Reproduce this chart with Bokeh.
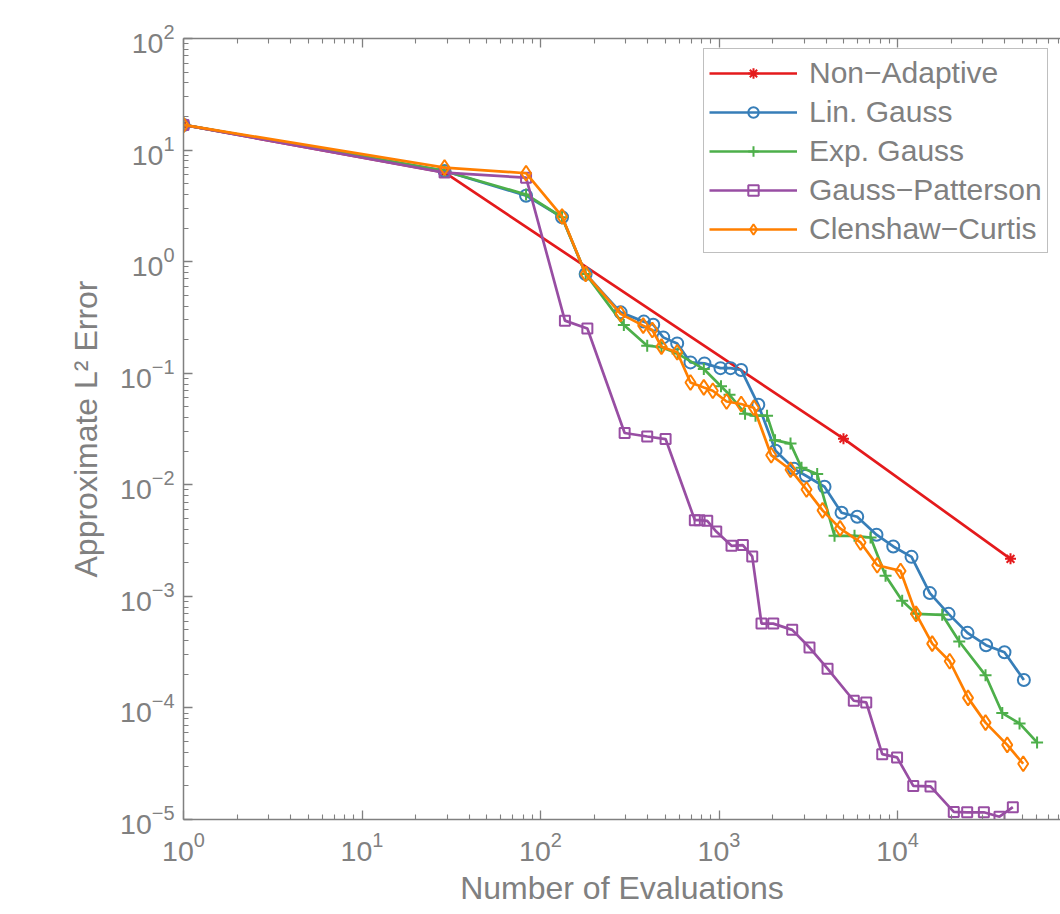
from bokeh.plotting import figure
from bokeh.models import (Range1d, FixedTicker, LogAxis, CustomJSTickFormatter,
                          LogTickFormatter, Legend, LegendItem)
from bokeh.embed import file_html
from bokeh.resources import INLINE

# ---------------- data ----------------
n_nonadaptive = [1, 29, 4980, 42950]
e_nonadaptive = [16.8, 6.3, 0.0259, 0.00217]

n_lin = [1, 29, 83, 132, 179, 281, 379, 428, 487, 583, 692, 829, 1019, 1160, 1331,
         1660, 2073, 2630, 3070, 3900, 4857, 5945, 7625, 9465, 11980, 15170, 19320,
         24660, 31330, 39730, 51030]
e_lin = [16.8, 6.5, 3.9, 2.5, 0.776, 0.351, 0.290, 0.272, 0.2095, 0.185, 0.125, 0.1225,
         0.111, 0.111, 0.107, 0.0521, 0.0202, 0.0139, 0.01205, 0.0096, 0.00561, 0.00517,
         0.00357, 0.0028, 0.00226, 0.00107, 0.000697, 0.000471, 0.000365, 0.000316, 0.000178]

n_exp = [1, 29, 83, 132, 179, 293, 396, 476, 586, 822, 1026, 1145, 1399, 1601, 1858,
         2060, 2515, 2898, 3548, 4437, 5742, 7063, 8570, 10620, 12700, 17800, 22170,
         31120, 38620, 48260, 60500]
e_exp = [16.8, 6.5, 4.0, 2.5, 0.776, 0.270, 0.1766, 0.171, 0.150, 0.109, 0.0764, 0.0641,
         0.0434, 0.0416, 0.0416, 0.0251, 0.0234, 0.0142, 0.01248, 0.00349, 0.00349, 0.00337,
         0.00153, 0.000912, 0.000697, 0.000683, 0.000394, 0.000196, 9.0e-5, 7.26e-5, 4.91e-5]

n_gp = [1, 29, 83, 137, 183, 296, 396, 502, 732, 778, 859, 965, 1175, 1360, 1535, 1730,
        2013, 2570, 3213, 4055, 5690, 6680, 8210, 9940, 12250, 15300, 20660, 24560, 30460,
        37260, 44260]
e_gp = [16.8, 6.28, 5.66, 0.296, 0.252, 0.0291, 0.0271, 0.0257, 0.00482, 0.00482, 0.00475,
        0.00381, 0.00284, 0.00288, 0.00228, 0.000570, 0.000570, 0.000501, 0.000348, 0.000225,
        0.000116, 0.000112, 3.85e-5, 3.6e-5, 2.0e-5, 1.98e-5, 1.17e-5, 1.16e-5, 1.16e-5,
        1.06e-5, 1.29e-5]

n_cc = [1, 29, 83, 132, 179, 281, 376, 423, 476, 583, 692, 822, 923, 1102, 1331, 1567,
        1960, 2515, 3091, 3801, 4765, 6208, 7693, 10400, 12700, 15640, 19600, 24830, 31120,
        41170, 50590]
e_cc = [16.8, 6.97, 6.2, 2.54, 0.776, 0.340, 0.267, 0.244, 0.173, 0.154, 0.0826, 0.0746,
        0.0697, 0.0558, 0.0530, 0.0491, 0.0184, 0.01365, 0.00906, 0.0059, 0.00407, 0.00304,
        0.00190, 0.00169, 0.000697, 0.000377, 0.000262, 0.000123, 7.38e-5, 4.66e-5, 3.16e-5]

series_names = ["Non\u2212Adaptive", "Lin. Gauss", "Exp. Gauss", "Gauss\u2212Patterson",
                "Clenshaw\u2212Curtis"]

x_label = "Number of Evaluations"
y_label = "Approximate L\u00b2 Error"

# ---------------- styling ----------------
GRAY = "#808080"
FONT = "Liberation Sans"
colors = ["#E41A1C", "#377EB8", "#4DAF4A", "#984EA3", "#FF7F00"]
markers = ["asterisk", "circle", "cross", "square", "diamond"]
msizes = [11, 12, 12, 10, 15]

p = figure(width=1060, height=914, x_axis_type="log", y_axis_type="log",
           x_range=Range1d(1, 10 ** 4.913), y_range=Range1d(1e-5, 1e2),
           output_backend="svg", toolbar_location=None,
           min_border_left=183, min_border_right=0, min_border_top=38,
           min_border_bottom=95)
p.grid.visible = False
p.outline_line_color = None
p.background_fill_color = "white"
p.border_fill_color = "white"

x_major = [10.0 ** k for k in range(0, 6)]
x_minor = [m * 10.0 ** k for k in range(0, 5) for m in range(2, 10)]
y_major = [10.0 ** k for k in range(-5, 3)]
y_minor = [m * 10.0 ** k for k in range(-5, 2) for m in range(2, 10)]

bottom = p.below[0]
left = p.left[0]
bottom.ticker = FixedTicker(ticks=x_major, minor_ticks=x_minor)
left.ticker = FixedTicker(ticks=y_major, minor_ticks=y_minor)
bottom.formatter = LogTickFormatter()
left.formatter = LogTickFormatter()

top = LogAxis(ticker=FixedTicker(ticks=x_major, minor_ticks=x_minor),
              formatter=CustomJSTickFormatter(code="return ''"))
p.add_layout(top, "above")


def style_axis(ax):
    ax.axis_line_color = GRAY
    ax.axis_line_width = 1.5
    ax.major_tick_line_color = GRAY
    ax.minor_tick_line_color = GRAY
    ax.major_tick_line_width = 1.3
    ax.minor_tick_line_width = 1.1
    ax.major_tick_in = 9
    ax.major_tick_out = 0
    ax.minor_tick_in = 5
    ax.minor_tick_out = 0
    ax.major_label_text_font = FONT
    ax.major_label_text_font_size = "28.5px"
    ax.major_label_text_color = GRAY
    ax.axis_label_text_font = FONT
    ax.axis_label_text_font_size = "32px"
    ax.axis_label_text_color = GRAY
    ax.axis_label_text_font_style = "normal"


for ax in [bottom, left, top]:
    style_axis(ax)

top.major_label_text_font_size = "1px"
top.major_label_standoff = 0

bottom.axis_label = x_label
left.axis_label = y_label
bottom.major_label_standoff = 12
left.major_label_standoff = 9
bottom.axis_label_standoff = 6
left.axis_label_standoff = 13

all_n = [n_nonadaptive, n_lin, n_exp, n_gp, n_cc]
all_e = [e_nonadaptive, e_lin, e_exp, e_gp, e_cc]

items = []
for name, n, e, c, mk, ms in zip(series_names, all_n, all_e, colors, markers, msizes):
    ln = p.line(n, e, line_color=c, line_width=2.7)
    sc = p.scatter(n, e, marker=mk, size=ms, line_color=c, fill_color=None,
                   line_width=2)
    items.append(LegendItem(label=name, renderers=[ln, sc]))

legend = Legend(items=items, location=(520, 566))
legend.label_text_font = FONT
legend.label_text_font_size = "30px"
legend.label_text_color = GRAY
legend.border_line_color = GRAY
legend.border_line_width = 1.5
legend.background_fill_color = "white"
legend.background_fill_alpha = 1.0
legend.glyph_width = 88
legend.glyph_height = 26
legend.label_height = 37
legend.spacing = 2
legend.padding = 5
legend.margin = 0
legend.label_standoff = 12
p.add_layout(legend)

open("out.html", "w").write(file_html(p, INLINE))
